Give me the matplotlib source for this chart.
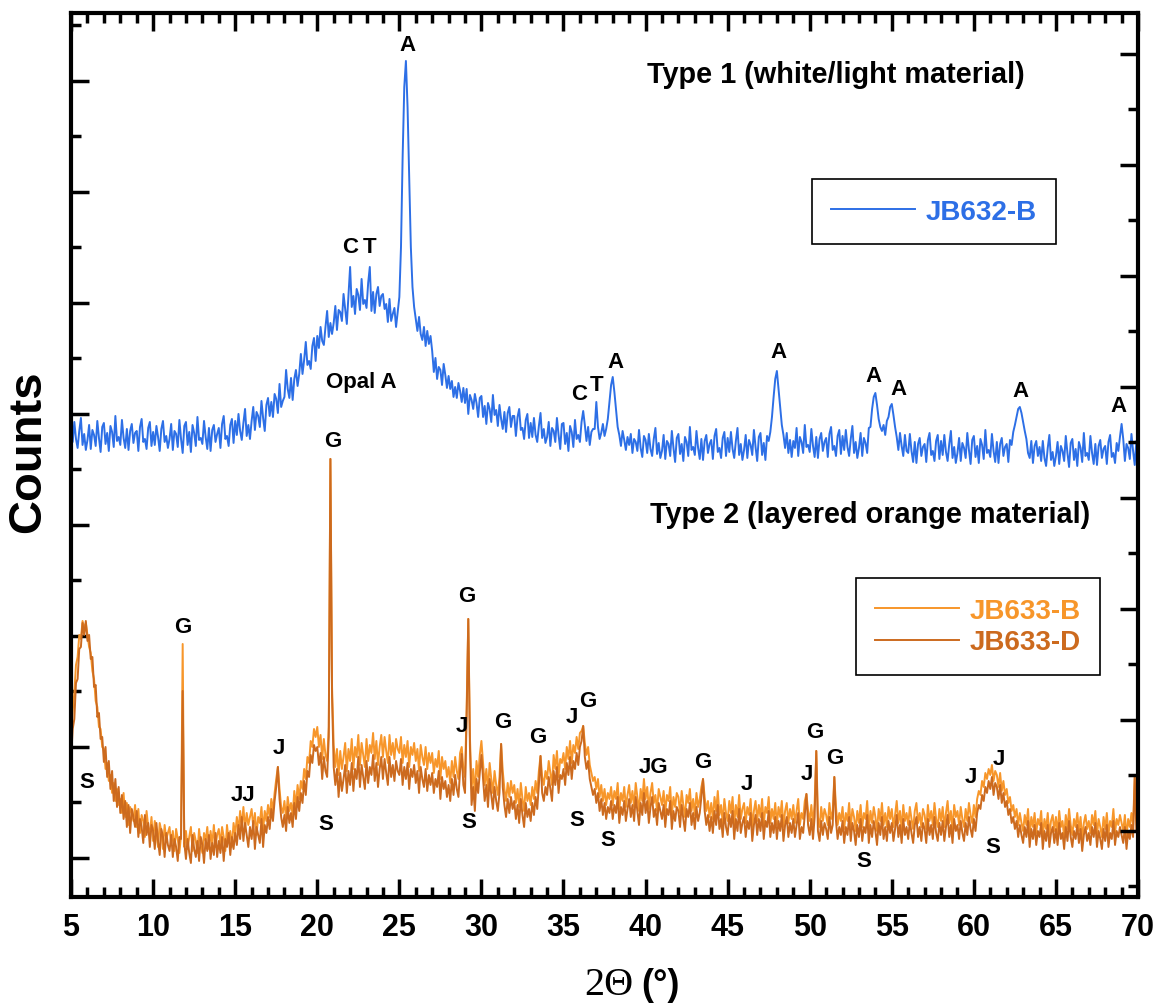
import numpy as np
import matplotlib.pyplot as plt
from matplotlib.ticker import FixedLocator, MultipleLocator

plt.rcParams["font.family"] = "Liberation Sans"
plt.rcParams["font.weight"] = "bold"

# 2-theta positions (deg), 0.1 deg step
two_theta = np.round(np.arange(5.0, 70.0001, 0.1), 1)

# counts (arbitrary units), one row = one degree
jb632_b = [
    469, 455, 475, 458, 449, 466, 479, 452, 463, 447,
    457, 472, 448, 467, 462, 451, 476, 459, 445, 470,
    474, 453, 464, 446, 471, 465, 450, 481, 456, 460,
    452, 477, 459, 449, 468, 447, 466, 473, 454, 464,
    466, 446, 470, 478, 455, 458, 448, 469, 475, 451,
    465, 452, 471, 460, 446, 468, 476, 455, 461, 449,
    458, 473, 447, 466, 463, 450, 477, 458, 444, 471,
    475, 452, 465, 445, 472, 464, 451, 480, 457, 459,
    453, 476, 460, 448, 469, 446, 467, 472, 455, 463,
    469, 449, 473, 481, 458, 461, 451, 472, 478, 454,
    476, 462, 483, 466, 457, 474, 488, 461, 472, 458,
    476, 490, 467, 485, 481, 470, 496, 479, 466, 492,
    499, 481, 495, 480, 503, 498, 484, 513, 490, 496,
    500, 527, 508, 499, 519, 497, 518, 527, 511, 523,
    543, 523, 537, 555, 532, 536, 528, 551, 559, 536,
    561, 549, 570, 556, 552, 570, 586, 560, 574, 563,
    574, 591, 567, 587, 585, 576, 603, 588, 573, 601,
    630, 590, 601, 583, 608, 602, 587, 618, 593, 597,
    589, 614, 630, 586, 605, 584, 603, 610, 591, 601,
    603, 588, 593, 575, 598, 576, 583, 589, 570, 585,
    600, 650, 740, 810, 836, 790, 720, 650, 610, 590,
    578, 566, 580, 563, 557, 570, 551, 566, 553, 561,
    546, 525, 539, 518, 530, 527, 512, 533, 522, 509,
    521, 508, 516, 500, 510, 499, 514, 506, 495, 509,
    494, 508, 483, 502, 497, 488, 503, 494, 480, 499,
    501, 480, 491, 473, 494, 488, 475, 502, 482, 487,
    471, 492, 478, 468, 485, 465, 484, 490, 470, 481,
    481, 461, 480, 488, 467, 469, 458, 477, 483, 459,
    474, 460, 479, 462, 455, 471, 484, 459, 468, 454,
    460, 475, 451, 469, 466, 455, 479, 462, 448, 473,
    474, 453, 464, 446, 471, 465, 450, 477, 458, 462,
    455, 475, 486, 472, 456, 470, 452, 465, 468, 468,
    495, 470, 458, 464, 473, 461, 468, 478, 495, 512,
    520, 505, 488, 470, 462, 451, 466, 457, 447, 460,
    452, 463, 444, 458, 455, 446, 467, 449, 440, 461,
    457, 444, 463, 448, 441, 458, 469, 443, 454, 439,
    446, 462, 438, 456, 453, 441, 466, 449, 435, 459,
    463, 443, 453, 436, 460, 455, 441, 470, 447, 450,
    442, 466, 449, 438, 458, 437, 456, 462, 444, 453,
    457, 438, 461, 468, 445, 449, 439, 459, 465, 441,
    459, 445, 465, 448, 439, 456, 469, 442, 453, 437,
    447, 462, 439, 457, 452, 442, 467, 450, 436, 460,
    464, 442, 454, 437, 461, 456, 465, 480, 500, 518,
    526, 508, 490, 472, 462, 449, 464, 444, 457, 440,
    456, 449, 469, 441, 460, 455, 444, 472, 450, 452,
    445, 468, 451, 440, 460, 439, 458, 464, 446, 455,
    459, 440, 463, 470, 447, 451, 441, 461, 467, 443,
    461, 447, 467, 450, 441, 458, 471, 444, 455, 439,
    449, 464, 441, 459, 454, 444, 469, 470, 488, 500,
    504, 492, 478, 470, 466, 472, 462, 476, 480, 490,
    493, 482, 470, 460, 447, 464, 451, 441, 462, 446,
    444, 463, 446, 435, 455, 434, 453, 459, 441, 450,
    453, 435, 457, 464, 442, 446, 436, 456, 462, 438,
    456, 442, 462, 445, 436, 453, 466, 439, 450, 434,
    444, 459, 436, 454, 449, 439, 464, 447, 433, 457,
    461, 440, 451, 434, 458, 452, 438, 467, 444, 447,
    440, 463, 446, 435, 455, 434, 453, 459, 441, 450,
    453, 435, 457, 452, 465, 472, 480, 488, 490, 484,
    475, 466, 458, 444, 439, 456, 434, 451, 456, 441,
    450, 436, 456, 439, 431, 449, 462, 437, 445, 431,
    441, 455, 433, 451, 446, 436, 461, 444, 430, 454,
    458, 437, 448, 431, 455, 449, 435, 464, 441, 444,
    437, 461, 444, 433, 453, 432, 451, 457, 439, 448,
    451, 433, 455, 462, 440, 444, 434, 454, 446, 460,
    473, 458, 436, 453, 449, 438, 463, 446, 432, 456,
    448,
]

jb633_b = [
    160, 186, 204, 232, 240, 262, 258, 276, 268, 274,
    262, 250, 244, 226, 218, 196, 190, 170, 168, 150,
    148, 128, 134, 116, 122, 104, 114, 96, 108, 92,
    98, 84, 104, 80, 94, 72, 90, 84, 76, 92,
    70, 88, 64, 82, 76, 60, 86, 70, 62, 80,
    56, 76, 62, 50, 74, 66, 48, 72, 58, 64,
    70, 52, 66, 46, 68, 58, 44, 62, 253, 50,
    66, 48, 60, 70, 46, 64, 56, 44, 68, 52,
    44, 64, 56, 70, 48, 66, 52, 72, 50, 62,
    68, 52, 70, 60, 46, 72, 56, 66, 50, 74,
    62, 80, 66, 86, 70, 90, 68, 84, 72, 80,
    88, 70, 84, 62, 80, 74, 90, 66, 86, 76,
    92, 80, 98, 86, 104, 118, 130, 108, 90, 84,
    96, 78, 100, 86, 94, 82, 106, 90, 112, 98,
    116, 108, 128, 118, 140, 134, 156, 150, 168, 160,
    170, 150, 162, 138, 158, 142, 136, 170, 438, 210,
    152, 130, 148, 122, 146, 128, 140, 154, 126, 148,
    136, 158, 128, 150, 140, 162, 132, 154, 142, 130,
    158, 136, 152, 144, 164, 138, 156, 132, 150, 162,
    140, 160, 146, 134, 162, 142, 154, 138, 158, 148,
    144, 160, 134, 152, 140, 156, 130, 150, 142, 154,
    136, 148, 126, 152, 140, 132, 150, 128, 144, 134,
    144, 124, 138, 130, 146, 118, 140, 128, 136, 120,
    130, 114, 136, 120, 140, 126, 118, 144, 150, 128,
    120, 190, 278, 160, 108, 128, 102, 136, 120, 142,
    156, 134, 112, 128, 106, 134, 118, 104, 126, 112,
    102, 120, 153, 126, 108, 96, 114, 100, 116, 104,
    112, 94, 108, 90, 114, 98, 86, 110, 96, 104,
    92, 110, 98, 116, 104, 126, 141, 120, 112, 126,
    118, 136, 124, 112, 142, 128, 146, 120, 138, 134,
    144, 128, 150, 138, 156, 134, 152, 144, 160, 148,
    164, 166, 171, 154, 142, 150, 132, 124, 116, 120,
    108, 118, 100, 112, 96, 108, 92, 104, 98, 110,
    92, 106, 98, 114, 88, 104, 96, 110, 90, 102,
    112, 94, 106, 90, 114, 100, 86, 108, 96, 118,
    98, 110, 88, 104, 114, 94, 102, 86, 108, 100,
    92, 106, 84, 102, 96, 110, 82, 100, 90, 104,
    100, 84, 106, 92, 80, 102, 94, 108, 86, 98,
    82, 104, 90, 98, 110, 118, 100, 86, 96, 80,
    94, 78, 100, 86, 106, 82, 92, 74, 98, 84,
    76, 96, 84, 100, 72, 92, 80, 102, 78, 88,
    94, 74, 90, 82, 98, 70, 86, 96, 76, 92,
    80, 98, 72, 90, 84, 100, 74, 88, 78, 94,
    72, 90, 80, 96, 70, 86, 94, 74, 88, 78,
    92, 74, 86, 98, 72, 84, 78, 96, 103, 86,
    76, 92, 72, 94, 146, 80, 70, 90, 76, 88,
    82, 72, 94, 78, 86, 120, 90, 72, 84, 76,
    90, 68, 84, 76, 94, 70, 88, 80, 66, 86,
    74, 92, 70, 84, 78, 96, 68, 86, 74, 90,
    80, 66, 88, 76, 94, 72, 84, 70, 90, 78,
    88, 70, 82, 96, 74, 86, 68, 92, 76, 84,
    72, 90, 78, 68, 86, 94, 74, 84, 70, 88,
    82, 68, 92, 76, 86, 72, 94, 78, 70, 88,
    76, 90, 70, 84, 96, 74, 86, 68, 92, 80,
    86, 72, 90, 78, 70, 88, 76, 94, 82, 74,
    92, 80, 98, 106, 102, 116, 110, 124, 118, 128,
    122, 132, 116, 126, 122, 110, 124, 106, 116, 102,
    108, 94, 100, 86, 92, 80, 88, 72, 84, 74,
    66, 82, 72, 88, 62, 80, 70, 84, 64, 78,
    72, 86, 60, 78, 68, 84, 62, 76, 82, 66,
    80, 64, 86, 70, 76, 60, 82, 68, 88, 72,
    62, 78, 70, 84, 66, 80, 58, 74, 82, 68,
    76, 64, 82, 72, 86, 62, 78, 70, 60, 80,
    68, 84, 62, 76, 70, 88, 64, 78, 72, 82,
    74, 66, 82, 60, 78, 70, 84, 72, 120, 78,
    80,
]

jb633_d = [
    138, 168, 178, 214, 218, 248, 250, 274, 262, 276,
    256, 262, 238, 240, 210, 212, 180, 184, 158, 160,
    135, 150, 120, 136, 108, 126, 96, 118, 90, 110,
    84, 102, 78, 96, 70, 92, 64, 88, 80, 70,
    86, 60, 78, 70, 54, 82, 62, 74, 50, 72,
    66, 48, 74, 56, 42, 68, 60, 40, 64, 52,
    46, 62, 40, 58, 50, 36, 60, 58, 206, 54,
    38, 58, 44, 34, 62, 48, 40, 56, 36, 60,
    52, 34, 58, 46, 62, 38, 54, 42, 64, 40,
    56, 44, 60, 36, 58, 50, 64, 42, 60, 48,
    64, 52, 72, 58, 80, 56, 74, 62, 50, 70,
    58, 76, 48, 70, 62, 54, 78, 50, 72, 64,
    80, 68, 88, 76, 96, 110, 130, 98, 80, 70,
    82, 66, 90, 74, 84, 70, 94, 78, 100, 86,
    104, 94, 116, 102, 126, 120, 142, 134, 152, 146,
    150, 132, 144, 118, 140, 126, 120, 160, 438, 200,
    130, 112, 128, 100, 124, 106, 118, 132, 104, 126,
    112, 134, 106, 128, 118, 140, 110, 132, 120, 108,
    136, 114, 130, 122, 142, 116, 134, 110, 128, 140,
    118, 138, 124, 112, 140, 120, 132, 116, 136, 126,
    122, 138, 112, 130, 118, 134, 108, 128, 120, 132,
    114, 126, 104, 130, 118, 110, 128, 106, 122, 112,
    124, 104, 118, 110, 126, 98, 120, 108, 116, 100,
    112, 96, 118, 102, 122, 108, 100, 126, 143, 112,
    104, 180, 278, 150, 92, 110, 86, 118, 104, 124,
    142, 118, 96, 112, 90, 118, 102, 88, 110, 96,
    86, 104, 153, 110, 92, 80, 98, 84, 100, 88,
    96, 78, 92, 74, 98, 82, 70, 94, 80, 88,
    76, 94, 82, 100, 88, 112, 141, 104, 96, 110,
    102, 120, 108, 96, 126, 112, 130, 104, 122, 118,
    128, 112, 134, 122, 140, 118, 136, 128, 144, 132,
    150, 156, 171, 140, 128, 136, 118, 110, 102, 108,
    94, 104, 86, 98, 82, 94, 78, 90, 84, 96,
    78, 92, 84, 100, 74, 90, 82, 96, 76, 88,
    98, 80, 92, 76, 100, 86, 72, 94, 82, 104,
    84, 96, 74, 90, 100, 80, 88, 72, 94, 86,
    78, 92, 70, 88, 82, 96, 68, 86, 76, 90,
    86, 70, 92, 78, 66, 88, 80, 94, 72, 84,
    68, 90, 76, 84, 100, 118, 86, 72, 82, 66,
    80, 64, 86, 72, 92, 68, 78, 60, 84, 70,
    62, 82, 70, 86, 58, 78, 66, 88, 64, 74,
    80, 60, 76, 68, 84, 56, 72, 82, 62, 78,
    66, 84, 58, 76, 70, 86, 60, 74, 64, 80,
    58, 76, 66, 82, 56, 72, 80, 60, 74, 64,
    78, 60, 72, 84, 58, 70, 64, 82, 103, 72,
    62, 78, 58, 80, 146, 66, 56, 76, 62, 74,
    68, 58, 80, 64, 72, 120, 76, 58, 70, 62,
    76, 54, 70, 62, 80, 56, 74, 66, 52, 72,
    60, 78, 56, 70, 64, 82, 54, 72, 60, 76,
    66, 52, 74, 62, 80, 58, 70, 56, 76, 64,
    74, 56, 68, 82, 60, 72, 54, 78, 62, 70,
    58, 76, 64, 54, 72, 80, 60, 70, 56, 74,
    68, 54, 78, 62, 72, 58, 80, 64, 56, 74,
    62, 76, 56, 70, 82, 60, 72, 54, 78, 66,
    72, 58, 76, 64, 56, 74, 62, 80, 68, 60,
    78, 66, 84, 92, 88, 102, 96, 110, 104, 116,
    108, 120, 102, 114, 110, 98, 112, 94, 104, 90,
    96, 82, 88, 74, 80, 68, 76, 60, 72, 62,
    54, 70, 60, 76, 50, 68, 58, 72, 52, 66,
    60, 74, 48, 66, 56, 72, 50, 64, 70, 54,
    68, 52, 74, 58, 64, 48, 70, 56, 76, 60,
    50, 66, 58, 72, 54, 68, 46, 62, 70, 56,
    64, 52, 70, 60, 74, 50, 66, 58, 48, 68,
    56, 72, 50, 64, 58, 76, 52, 66, 60, 70,
    62, 54, 70, 48, 66, 58, 72, 60, 120, 66,
    68,
]

# phase labels: (text, 2theta, counts)
peak_labels = [
    ("A", 25.47, 852), ("C", 22.0, 650), ("T", 23.2, 650), ("Opal A", 22.67, 515),
    ("C", 35.95, 503), ("T", 37.04, 512), ("A", 38.14, 535), ("A", 48.07, 545),
    ("A", 53.86, 521), ("A", 55.38, 508), ("A", 62.87, 506), ("A", 68.84, 491),
    ("G", 11.82, 270), ("G", 20.96, 456), ("S", 5.97, 115), ("JJ", 15.48, 102),
    ("J", 17.67, 149), ("S", 20.53, 73), ("G", 29.12, 301), ("J", 28.82, 171),
    ("S", 29.25, 75), ("G", 31.32, 175), ("G", 33.45, 160), ("J", 35.52, 180),
    ("G", 36.5, 196), ("S", 35.83, 77), ("S", 37.71, 57), ("JG", 40.46, 130),
    ("G", 43.5, 135), ("J", 46.18, 113), ("J", 49.84, 123), ("G", 50.32, 165),
    ("G", 51.54, 139), ("S", 53.31, 36), ("J", 59.83, 120), ("J", 61.53, 138),
    ("S", 61.17, 50),
]

BLUE = "#2d6fe6"
ORANGE_LIGHT = "#f7962a"
ORANGE_DARK = "#cc6a1e"


def plot_xrd():
    fig = plt.figure(figsize=(11.61, 10.04), dpi=100)
    ax = fig.add_axes([0.0612, 0.1056, 0.9190, 0.8805])

    l1, = ax.plot(two_theta, jb632_b, color=BLUE, lw=1.4, label="JB632-B")
    l2, = ax.plot(two_theta, jb633_b, color=ORANGE_LIGHT, lw=1.4, label="JB633-B")
    l3, = ax.plot(two_theta, jb633_d, color=ORANGE_DARK, lw=1.4, label="JB633-D")

    ax.set_xlim(5, 70)
    ax.set_ylim(0, 884)

    # axes styling
    for sp in ax.spines.values():
        sp.set_linewidth(3)
    ax.xaxis.set_major_locator(MultipleLocator(5))
    ax.xaxis.set_minor_locator(MultipleLocator(1))
    ax.yaxis.set_major_locator(FixedLocator(39 + 111 * np.arange(8)))
    ax.yaxis.set_minor_locator(FixedLocator(94.5 + 111 * np.arange(8)))
    ax.tick_params(which="both", direction="in", top=True, right=False, width=2.5)
    ax.tick_params(which="major", length=13)
    ax.tick_params(which="minor", length=7)
    ax.tick_params(axis="x", labelsize=22, pad=11)
    ax.tick_params(axis="y", labelleft=False)

    # right axis has its own (offset) ticks
    rax = ax.twinx()
    rax.set_ylim(0, 884)
    rax.yaxis.set_major_locator(FixedLocator(66 + 111 * np.arange(8)))
    rax.yaxis.set_minor_locator(FixedLocator(11 + 111 * np.arange(8)))
    rax.tick_params(which="both", direction="in", width=2.5, labelright=False)
    rax.tick_params(which="major", length=13)
    rax.tick_params(which="minor", length=7)
    for sp in rax.spines.values():
        sp.set_visible(False)

    for lab in ax.get_xticklabels():
        lab.set_fontweight("bold")

    # peak labels
    for txt, x, y in peak_labels:
        ax.text(x, y, txt, ha="center", va="center", fontsize=16, fontweight="bold")

    ax.text(51.6, 823, "Type 1 (white/light material)", ha="center", va="center",
            fontsize=20.8, fontweight="bold")
    ax.text(53.68, 383, "Type 2 (layered orange material)", ha="center", va="center",
            fontsize=20.8, fontweight="bold")

    leg_kw = dict(frameon=True, fancybox=False, framealpha=1, edgecolor="black",
                  labelcolor="linecolor", handlelength=3.0, handletextpad=0.4,
                  borderpad=0.7, prop={"weight": "bold", "size": 20})
    leg1 = ax.legend(handles=[l1], loc="center", bbox_to_anchor=(0.809, 0.775), **leg_kw)
    leg1.get_frame().set_linewidth(1.2)
    ax.add_artist(leg1)
    leg2 = ax.legend(handles=[l2, l3], loc="center", bbox_to_anchor=(0.850, 0.306),
                     labelspacing=0.2, **leg_kw)
    leg2.get_frame().set_linewidth(1.2)

    # axis titles
    fig.text(28 / 1161, 1 - 452 / 1004, "Counts", rotation=90, ha="center", va="center",
             fontsize=34, fontweight="bold")
    fig.text(633 / 1161, 1 - 995 / 1004, "2\u0398", ha="right", va="baseline",
             fontsize=29, family="Liberation Serif", fontweight="normal")
    fig.text(641 / 1161, 1 - 995 / 1004, "(\u00b0)", ha="left", va="baseline",
             fontsize=26, fontweight="bold")

    fig.savefig("out.png", dpi=100)


if __name__ == "__main__":
    plot_xrd()
